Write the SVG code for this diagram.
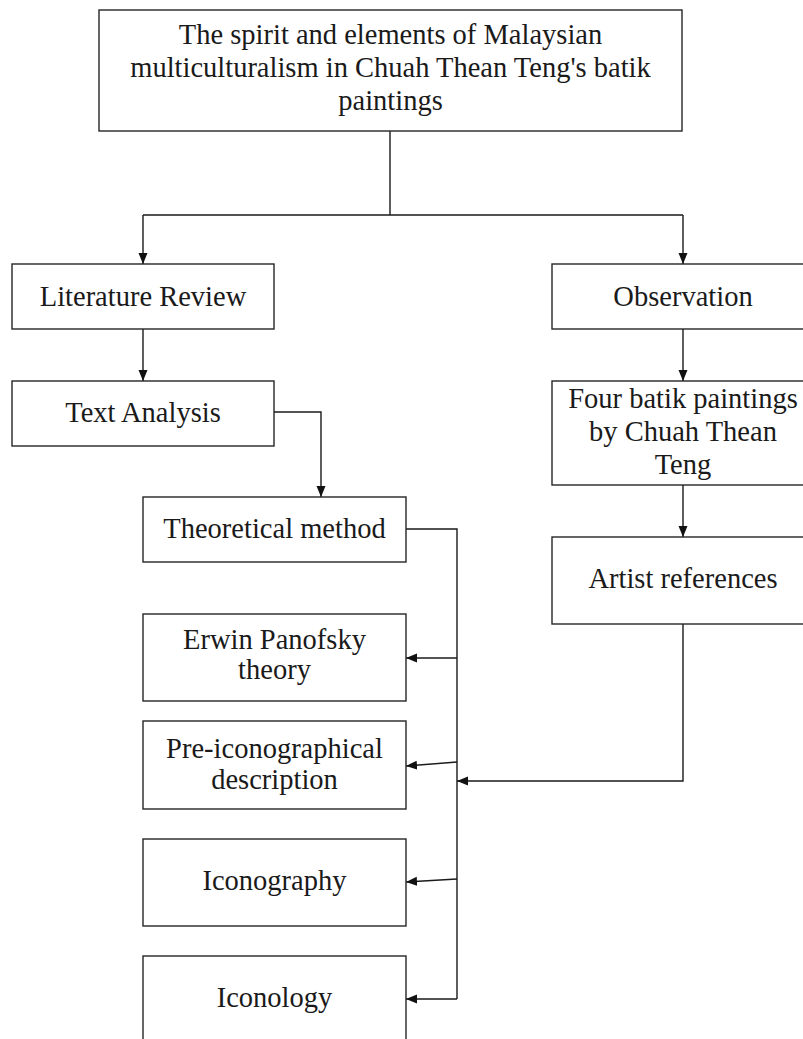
<svg xmlns="http://www.w3.org/2000/svg" width="803" height="1039" viewBox="0 0 803 1039">
<style>
.box{fill:#fff;stroke:#262626;stroke-width:1.4}
.lbl{font-family:"Liberation Serif","Times New Roman",serif;font-size:28.5px;fill:#1a1a1a;text-anchor:middle}
.ln{fill:none;stroke:#1a1a1a;stroke-width:1.4}
.ar{fill:none;stroke:#1a1a1a;stroke-width:1.4;marker-end:url(#ah)}
</style>
<defs>
<marker id="ah" markerUnits="userSpaceOnUse" markerWidth="12" markerHeight="12" refX="11" refY="6" orient="auto">
<path d="M0,1.5 L11,6 L0,10.5 z" fill="#111"/>
</marker>
</defs>
<rect width="803" height="1039" fill="#fff"/>
<g id="connectors">
<path class="ln" d="M390,131 V215 M143,215 H683"/>
<path class="ar" d="M143,215 V264"/>
<path class="ar" d="M683,215 V264"/>
<path class="ar" d="M143,329 V381"/>
<path class="ar" d="M274,412 H321 V497"/>
<path class="ar" d="M683,329 V381"/>
<path class="ar" d="M683,485 V537"/>
<path class="ln" d="M406,529 H457 V999"/>
<path class="ar" d="M457,658 H406"/>
<path class="ar" d="M457,762 L406,766"/>
<path class="ar" d="M457,879 L406,882"/>
<path class="ar" d="M457,999 H406"/>
<path class="ar" d="M683,624 V781 H457"/>
</g>
<g id="n-title">
<rect class="box" x="99" y="10" width="583" height="121"/>
<text class="lbl" x="390.5" y="44">The spirit and elements of Malaysian</text>
<text class="lbl" x="390.5" y="77">multiculturalism in Chuah Thean Teng's batik</text>
<text class="lbl" x="390.5" y="110">paintings</text>
</g>
<g id="n-lit">
<rect class="box" x="12" y="264" width="262" height="65"/>
<text class="lbl" x="143" y="306">Literature Review</text>
</g>
<g id="n-obs">
<rect class="box" x="552" y="264" width="262" height="65"/>
<text class="lbl" x="683" y="306">Observation</text>
</g>
<g id="n-text">
<rect class="box" x="12" y="381" width="262" height="65"/>
<text class="lbl" x="143" y="422">Text Analysis</text>
</g>
<g id="n-four">
<rect class="box" x="552" y="381" width="262" height="104"/>
<text class="lbl" x="683" y="408">Four batik paintings</text>
<text class="lbl" x="683" y="441">by Chuah Thean</text>
<text class="lbl" x="683" y="474">Teng</text>
</g>
<g id="n-artist">
<rect class="box" x="552" y="537" width="262" height="87"/>
<text class="lbl" x="683" y="588">Artist references</text>
</g>
<g id="n-theo">
<rect class="box" x="143" y="497" width="263" height="65"/>
<text class="lbl" x="274.5" y="538">Theoretical method</text>
</g>
<g id="n-erwin">
<rect class="box" x="143" y="614" width="263" height="87"/>
<text class="lbl" x="274.5" y="649">Erwin Panofsky</text>
<text class="lbl" x="274.5" y="679">theory</text>
</g>
<g id="n-pre">
<rect class="box" x="143" y="721" width="263" height="88"/>
<text class="lbl" x="274.5" y="758">Pre-iconographical</text>
<text class="lbl" x="274.5" y="789">description</text>
</g>
<g id="n-iconography">
<rect class="box" x="143" y="839" width="263" height="87"/>
<text class="lbl" x="274.5" y="890">Iconography</text>
</g>
<g id="n-iconology">
<rect class="box" x="143" y="956" width="263" height="100"/>
<text class="lbl" x="274.5" y="1007">Iconology</text>
</g>
</svg>
